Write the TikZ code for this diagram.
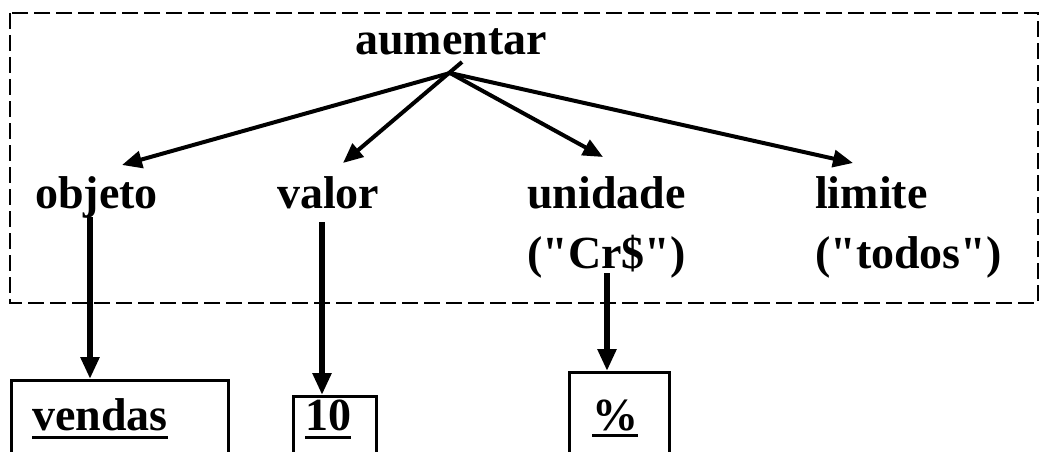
\documentclass[tikz,border=0pt]{standalone}
\usepackage{fontspec}
\setmainfont{Liberation Serif}
\usetikzlibrary{arrows.meta}
\tikzset{
  lbl/.style={font=\fontsize{46}{52}\selectfont\bfseries, inner sep=0pt, anchor=base west},
  frame/.style={line width=2.5pt, dash pattern=on 16pt off 6pt},
  thinarrow/.style={line width=4pt, -{Triangle[length=20pt,width=17pt]}},
  thickarrow/.style={line width=6pt, -{Triangle[length=22pt,width=18pt]}},
  boxline/.style={line width=2.5pt},
  ul/.style={line width=3pt}
}
\begin{document}
\begin{tikzpicture}[x=1pt,y=-1pt]
\useasboundingbox[fill=white] (0,0) rectangle (1044,452);
% dashed frame
\draw[frame] (10,13) rectangle (1038,303);
% labels
\node[lbl] (aum) at (355,55) {aumentar};
\node[lbl] (obj) at (35,208) {objeto};
\node[lbl] (val) at (277,208) {valor};
\node[lbl] (uni) at (527,208) {unidade};
\node[lbl] (cr) at (527,268) {(\textquotedbl Cr\$\textquotedbl)};
\node[lbl] (lim) at (815,208) {limite};
\node[lbl] (tod) at (815,268) {(\textquotedbl todos\textquotedbl)};
% boxes (open below the picture edge)
\node[boxline, draw, anchor=north west, minimum width=217pt, minimum height=100pt, inner sep=0pt] (vbox) at (10,379) {};
\node[boxline, draw, anchor=north west, minimum width=83pt, minimum height=100pt, inner sep=0pt] (tbox) at (292,395) {};
\node[boxline, draw, anchor=north west, minimum width=100pt, minimum height=100pt, inner sep=0pt] (pbox) at (568,371) {};
\node[lbl] (ven) at (32,430) {vendas};
\node[lbl] (ten) at (305,430) {10};
\node[lbl] (pct) at (592,430) {\%};
\draw[ul] ([yshift=-7pt]ven.base west) -- ([yshift=-7pt]ven.base east);
\draw[ul] ([yshift=-7pt]ten.base west) -- ([yshift=-7pt]ten.base east);
\draw[ul] ([yshift=-5pt]pct.base west) -- ([yshift=-5pt]pct.base east);
% arrows from aumentar
\coordinate (hub) at (450,73);
\coordinate (hubv) at (462,62);
\coordinate (tobj) at (122,165);
\coordinate (tval) at (343,163);
\coordinate (tuni) at (603,157);
\coordinate (tlim) at (853,163);
\draw[thinarrow] (hub) -- (tobj);
\draw[thinarrow] (hubv) -- (tval);
\draw[thinarrow] (hub) -- (tuni);
\draw[thinarrow] (hub) -- (tlim);
% vertical arrows
\coordinate (sobj) at (90,217);
\coordinate (sval) at (322,222);
\coordinate (suni) at (607,273);
\draw[thickarrow] (sobj) -- (sobj |- vbox.north);
\draw[thickarrow] (sval) -- (sval |- tbox.north);
\draw[thickarrow] (suni) -- (suni |- pbox.north);
\end{tikzpicture}
\end{document}
